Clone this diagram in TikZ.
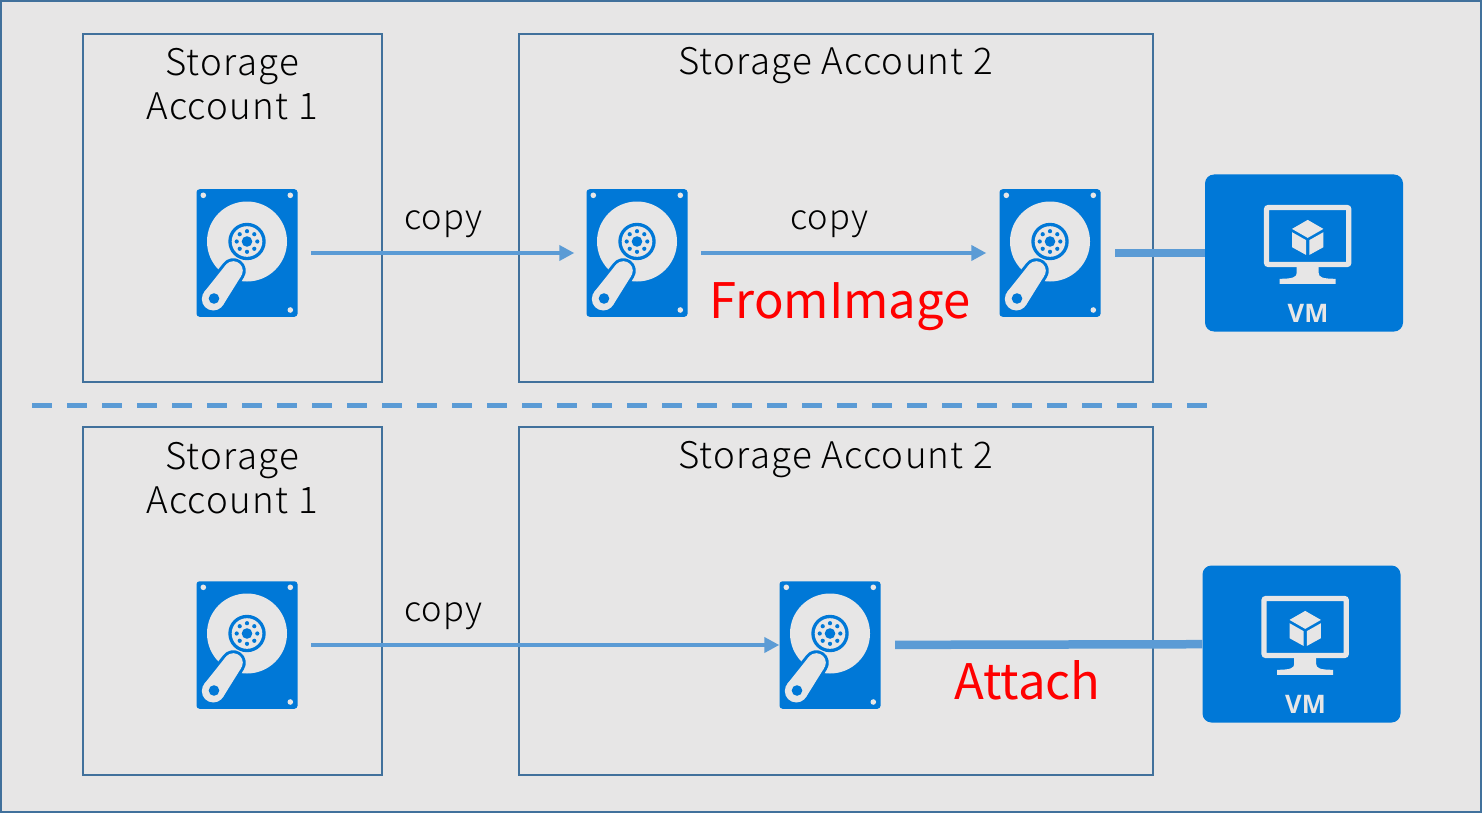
\documentclass[tikz,border=0pt]{standalone}
\usepackage{fontspec}
\setmainfont[UprightFont=* Light, LetterSpace=3.5]{Noto Sans CJK JP}
\newfontfamily\alertfont{Noto Sans CJK JP}
\newfontfamily\vmfont{Open Sans}
\usetikzlibrary{arrows.meta}
\definecolor{azure}{HTML}{0078D7}
\definecolor{pale}{HTML}{E7E6E6}
\definecolor{frame}{HTML}{41719C}
\definecolor{flow}{HTML}{5B9BD5}
\tikzset{
    account/.style={draw=frame, line width=1.6pt, inner sep=0pt},
    title/.style={font=\fontsize{36.7}{44}\selectfont, align=center, anchor=base, inner sep=0pt},
    note/.style={font=\fontsize{34.5}{40}\selectfont, anchor=base, inner sep=0pt},
    alert/.style={font=\alertfont\fontsize{49}{55}\selectfont, text=red, anchor=base, inner sep=0pt},
    disk/.style={fill=azure, rounded corners=3pt, minimum width=101pt, minimum height=127.5pt, inner sep=0pt},
    vmbox/.style={fill=azure, rounded corners=9pt, minimum width=198pt, minimum height=157pt, inner sep=0pt},
    copyline/.style={draw=flow, line width=4.8pt, -{Triangle[length=15pt,width=15pt]}},
    attachline/.style={draw=flow, line width=8.5pt},
    hddicon/.pic={
        % platter
        \fill[pale] (0,-11.5) circle (40);
        \fill[azure] (0,-11.5) circle (18.7);
        \fill[pale] (0,-11.5) circle (15.3);
        \fill[azure] (0,-11.5) circle (5.3);
        \foreach \a in {0,45,...,315} {
            \fill[azure] (0,-11.5) ++(\a:10.3) circle (2.1);
        }
        % screws
        \fill[pale] (-43.7,-57.7) circle (2.8);
        \fill[pale] (43.3,-57.7) circle (2.8);
        \fill[pale] (43.3,57) circle (2.8);
        % arm
        \draw[azure, line width=6pt, line join=round] (-24.3,52.64) -- (-5.94,23.18) arc (35:-145:9.5) -- (-43.1,39.36) arc (215:35:11.5);
        \fill[pale] (-33.7,46) circle (11.5);
        \fill[pale] (-13.7,17.7) circle (9.5);
        \fill[pale] (-24.3,52.64) -- (-5.94,23.18) -- (-21.46,12.22) -- (-43.1,39.36) -- cycle;
        \fill[azure] (-33,45.5) circle (5.3);
    },
    vmicon/.pic={
        % screen
        \draw[pale, line width=5.3pt, rounded corners=2pt] (-37.5,-45.5) rectangle (44.8,11.5);
        % stand
        \fill[pale] (-7.3,14) -- (14.7,14) -- (14.7,20) .. controls (14.7,24) and (18,25.8) .. (31.7,25.8) -- (31.7,30.8) -- (-24.3,30.8) -- (-24.3,25.8) .. controls (-11,25.8) and (-7.3,24) .. (-7.3,20) -- cycle;
        % cube
        \begin{scope}[shift={(3.7,-15.8)}]
            \fill[pale] (0,-17.3) -- (15.7,-8.3) -- (0,0.7) -- (-15.7,-8.3) -- cycle;
            \fill[pale] (-15.7,-5) -- (-1.7,2.9) -- (-1.7,17.7) -- (-15.7,10) -- cycle;
            \fill[pale] (15.7,-5) -- (1.7,2.9) -- (1.7,17.7) -- (15.7,10) -- cycle;
        \end{scope}
        \node[font=\vmfont\bfseries\fontsize{25.5}{26}\selectfont, text=pale, inner sep=0pt] (-vmname) at (4,60) {VM};
    }
}
\begin{document}
\begin{tikzpicture}[x=1pt, y=-1pt]
    \useasboundingbox (0,0) rectangle (1482,813);
    % Background
    \draw[frame, line width=2pt, fill=pale] (1,1) rectangle (1481,812);

    % Upper half
    \node[account, minimum width=299pt, minimum height=348pt] (acctA) at (232.5,208) {};
    \node[account, minimum width=634pt, minimum height=348pt] (acctB) at (836,208) {};
    \node[title] (titleA) at (232,120) {Storage\\Account 1};
    \node[title] (titleB) at (835.5,75) {Storage Account 2};
    \node[disk] (diskA) at (247,253) {};
    \node[disk] (diskB) at (637,253) {};
    \node[disk] (diskC) at (1050,253) {};
    \pic at (diskA) {hddicon};
    \pic at (diskB) {hddicon};
    \pic at (diskC) {hddicon};
    \node[vmbox] (vmA) at (1304,253) {};
    \pic (vmiconA) at (vmA) {vmicon};
    \draw[copyline, shorten <=13.5pt, shorten >=12pt] (diskA) -- (diskB);
    \draw[copyline, shorten <=13.5pt, shorten >=13pt] (diskB) -- (diskC);
    \draw[attachline, shorten <=14.5pt] (diskC) -- (vmA);
    \node[note] (copyA) at (443.5,229) {copy};
    \node[note] (copyB) at (829.5,229) {copy};
    \node[alert] (fromimage) at (840,318) {FromImage};

    % Separator
    \coordinate (sepL) at (32,405.5);
    \coordinate (sepR) at (1208,405.5);
    \draw[flow, line width=5pt, dash pattern=on 20pt off 15pt] (sepL) -- (sepR);

    % Lower half
    \node[account, minimum width=299pt, minimum height=348pt] (acctC) at (232.5,601) {};
    \node[account, minimum width=634pt, minimum height=348pt] (acctD) at (836,601) {};
    \node[title] (titleC) at (232,513) {Storage\\Account 1};
    \node[title] (titleD) at (835.5,468) {Storage Account 2};
    \node[disk] (diskD) at (247,645) {};
    \node[disk] (diskE) at (830,645) {};
    \pic at (diskD) {hddicon};
    \pic at (diskE) {hddicon};
    \node[vmbox] (vmB) at (1301.5,644) {};
    \pic (vmiconB) at (vmB) {vmicon};
    \draw[copyline, shorten <=13.5pt] (diskD) -- (diskE);
    \draw[attachline, shorten <=14.5pt] (diskE) -- (vmB);
    \node[note] (copyC) at (443.5,621) {copy};
    \node[alert] (attach) at (1027.5,699) {Attach};
\end{tikzpicture}
\end{document}
